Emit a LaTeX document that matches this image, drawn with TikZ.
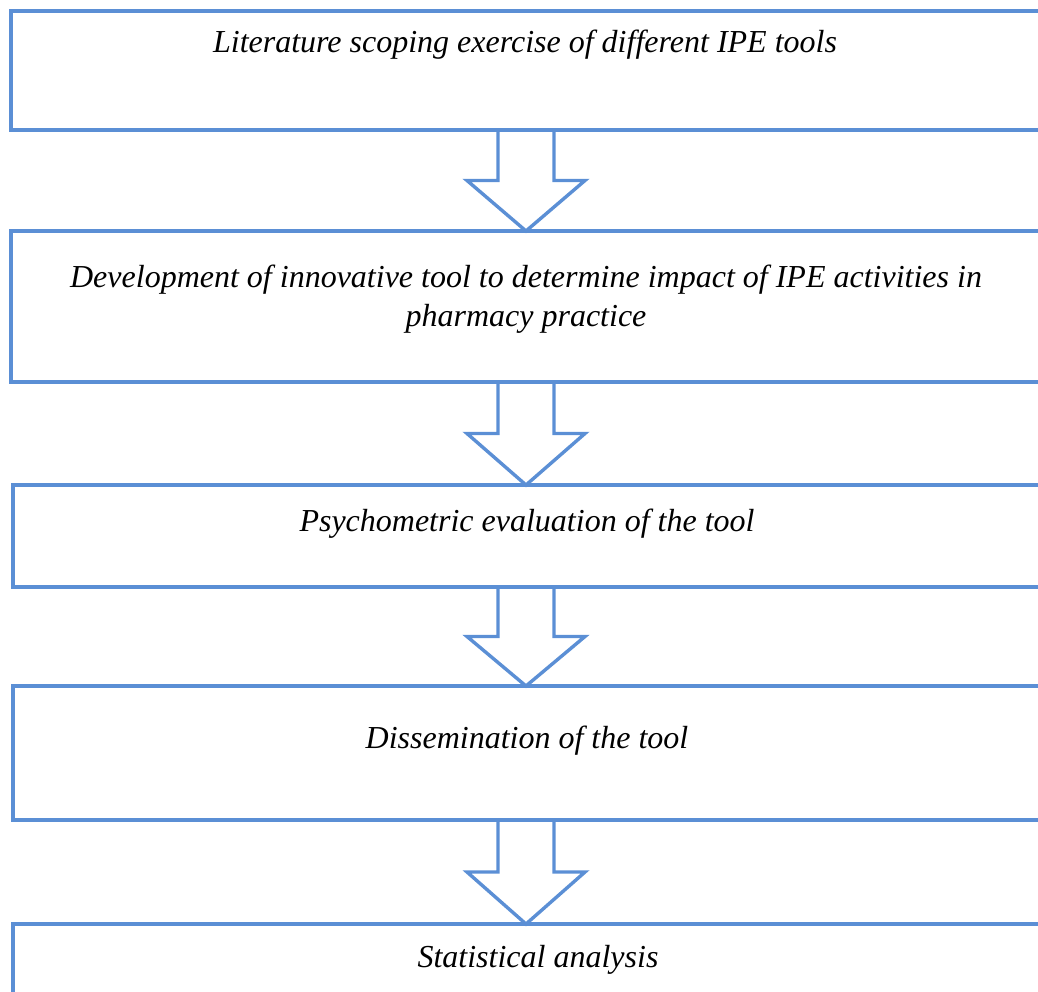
\documentclass[tikz,border=0pt]{standalone}
\usepackage{fontspec}
\setmainfont{Liberation Serif}
\usepackage{xcolor}
\usepackage{tikz}
\usetikzlibrary{calc}
\definecolor{stageblue}{RGB}{91,143,213}

\begin{document}
\begin{tikzpicture}[
    x=1pt, y=-1pt,
    stage/.style={draw=stageblue, line width=3.6pt, anchor=north west, inner sep=0pt, outer sep=0pt},
    steptext/.style={anchor=base, align=center, inner sep=0pt, font=\fontsize{32}{39}\selectfont\itshape},
    flow/.style={draw=stageblue, line width=3.4pt, line join=miter}
]
\clip (0,0) rectangle (1038,992);
\node[stage, minimum width=1030pt, minimum height=119pt] (lit) at (11,11) {};
\node[stage, minimum width=1030pt, minimum height=151pt] (dev) at (11,231) {};
\node[stage, minimum width=1028pt, minimum height=102pt] (psy) at (13,485) {};
\node[stage, minimum width=1028pt, minimum height=134pt] (dis) at (13,686) {};
\node[stage, minimum width=1028pt, minimum height=100pt] (stat) at (13,924) {};

\node[steptext] (lit-t) at (525,53) {Literature scoping exercise of different IPE tools};
\node[steptext] (dev-t) at (526,326) {Development of innovative tool to determine impact of IPE activities in\\pharmacy practice};
\node[steptext] (psy-t) at (527,531) {Psychometric evaluation of the tool};
\node[steptext] (dis-t) at (527,748) {Dissemination of the tool};
\node[steptext] (stat-t) at (538,967) {Statistical analysis};

% block arrows between the stages
\foreach \a/\b in {lit/dev, dev/psy, psy/dis, dis/stat}{
  \coordinate (top) at (526,0 |- \a.south);
  \coordinate (tip) at (526,0 |- \b.north);
  \coordinate (mid) at ($(top)!0.5!(tip)$);
  \draw[flow] ($(top)+(-28,0)$) -- ($(mid)+(-28,0)$) -- ($(mid)+(-59,0)$) -- (tip)
    -- ($(mid)+(59,0)$) -- ($(mid)+(28,0)$) -- ($(top)+(28,0)$);
}
\end{tikzpicture}
\end{document}
